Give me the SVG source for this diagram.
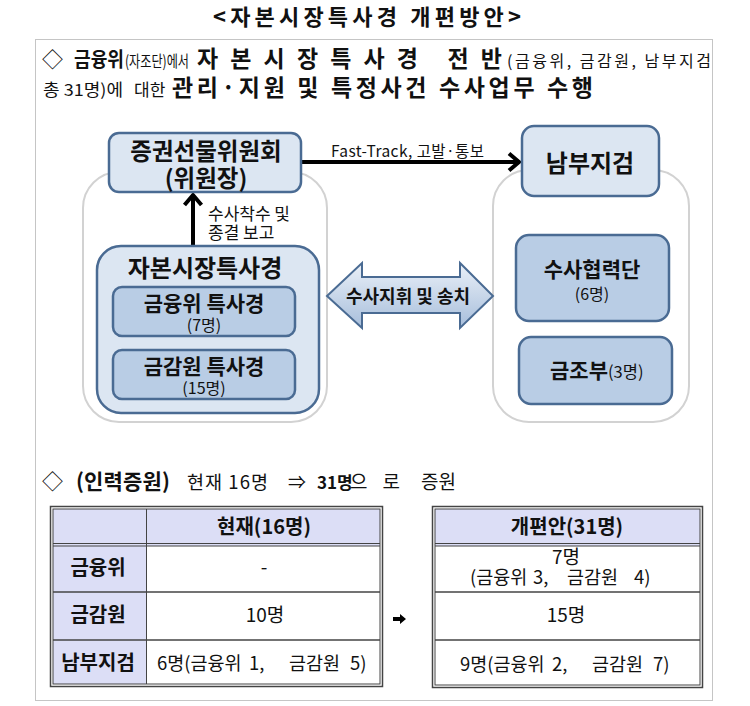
<svg xmlns="http://www.w3.org/2000/svg" width="750" height="706" viewBox="0 0 750 706">
<defs>
<style>
text{font-family:'Noto Sans CJK KR','Noto Sans',sans-serif;fill:#111;}
.b{font-weight:bold;}
.c{text-anchor:middle;}
.box1{fill:#dce6f2;stroke:#4a6b93;stroke-width:2.5;}
.box2{fill:#b9cde5;stroke:#4a6b93;stroke-width:2.5;}
.cont{fill:#fff;stroke:#d2d2d2;stroke-width:2;}
.conn{fill:none;stroke:#000;stroke-width:4;}
.tl{stroke:#444;fill:none;}
.hd{fill:#dcdef6;}
</style>
<linearGradient id="ga" x1="0" y1="0" x2="0" y2="1">
<stop offset="0" stop-color="#eaf0f8"/>
<stop offset="1" stop-color="#a7bedb"/>
</linearGradient>
</defs>
<rect width="750" height="706" fill="#fff"/>

<!-- title -->
<text class="b c" x="367" y="25" font-size="22" textLength="308">&lt;자본시장특사경 개편방안&gt;</text>

<!-- frame -->
<rect x="35.5" y="39.5" width="677" height="661" fill="none" stroke="#8a8a8a" stroke-width="1" stroke-dasharray="1 1"/>

<!-- heading 1 -->
<g id="heading1">
<text x="42" y="67" font-size="21">◇</text>
<text class="b" x="74" y="67" font-size="20" textLength="50" lengthAdjust="spacingAndGlyphs">금융위</text>
<text x="125" y="67" font-size="16" textLength="64" lengthAdjust="spacingAndGlyphs">(자조단)에서</text>
<text class="b" x="197" y="67" font-size="23" textLength="305">자본시장특사경 전반</text>
<text x="507" y="67" font-size="16" textLength="204">(금융위, 금감원, 남부지검</text>
<text x="43" y="96" font-size="16.5" textLength="80" lengthAdjust="spacingAndGlyphs">총 31명)에</text>
<text x="134" y="96" font-size="17">대한</text>
<text class="b" x="172" y="96" font-size="23" textLength="421">관리·지원 및 특정사건 수사업무 수행</text>
</g>

<!-- containers -->
<g id="left-container"><rect class="cont" x="83" y="172" width="244" height="250" rx="36"/></g>
<g id="right-container"><rect class="cont" x="493" y="170" width="196" height="252" rx="36"/></g>

<!-- connectors -->
<g id="connectors">
<line class="conn" x1="302" y1="162" x2="518" y2="162"/>
<polyline class="conn" points="509,153.5 519,162 509,170.5"/>
<line class="conn" x1="193" y1="246" x2="193" y2="196"/>
<polyline class="conn" points="184.5,205 193,195 201.5,205"/>
<polygon points="327,296 362,263 362,277 460,277 460,263 493,296 460,328 460,313 362,313 362,328" fill="url(#ga)" stroke="#4a6b93" stroke-width="2"/>
<text class="b c" x="408" y="302.5" font-size="18">수사지휘 및 송치</text>
<text x="331" y="157" font-size="15.5" textLength="153">Fast-Track, 고발·통보</text>
<text x="208" y="220" font-size="17">수사착수 및</text>
<text x="208" y="239" font-size="17">종결 보고</text>
</g>

<g id="n-sfc">
<rect class="box1" x="109" y="133" width="192" height="59" rx="10"/>
<text class="b c" x="206" y="159.5" font-size="23.5">증권선물위원회</text>
<text class="b c" x="206" y="186.5" font-size="23.5">(위원장)</text>
</g>

<g id="n-spj">
<rect class="box1" x="97" y="246" width="222" height="167" rx="24"/>
<text class="b c" x="205" y="277" font-size="24">자본시장특사경</text>
</g>

<g id="n-fsc">
<rect class="box2" x="113" y="287" width="182" height="49" rx="9"/>
<text class="b c" x="204" y="311" font-size="21">금융위 특사경</text>
<text class="c" x="204" y="331" font-size="16">(7명)</text>
</g>

<g id="n-fss">
<rect class="box2" x="113" y="350" width="182" height="49" rx="9"/>
<text class="b c" x="204" y="374" font-size="21">금감원 특사경</text>
<text class="c" x="204" y="394" font-size="16">(15명)</text>
</g>

<g id="n-spo">
<rect class="box1" x="522" y="126" width="137" height="70" rx="12"/>
<text class="b c" x="590" y="171.5" font-size="24">남부지검</text>
</g>

<g id="n-coop">
<rect class="box2" x="516" y="235" width="153" height="86" rx="13"/>
<text class="b c" x="592" y="277" font-size="21">수사협력단</text>
<text class="c" x="592" y="300" font-size="16">(6명)</text>
</g>

<g id="n-fin">
<rect class="box2" x="519" y="337" width="153" height="67" rx="12"/>
<text x="550" y="377.5"><tspan class="b" font-size="21">금조부</tspan><tspan font-size="16.5">(3명)</tspan></text>
</g>

<!-- heading 2 -->
<g id="heading2">
<text x="42" y="489" font-size="21">◇</text>
<text class="b" x="76" y="489" font-size="21" textLength="94">(인력증원)</text>
<text x="187" y="489" font-size="18.5" textLength="81">현재 16명</text>
<text x="288" y="489" font-size="18">⇒</text>
<text class="b" x="317" y="489" font-size="17">31명</text>
<text x="350" y="489" font-size="19" textLength="50">으로</text>
<text x="421" y="489" font-size="19">증원</text>
</g>

<!-- table current -->
<g id="table-current">
<rect x="50" y="506" width="333" height="181" fill="#fff"/>
<rect class="hd" x="53" y="509" width="327" height="37"/>
<rect class="hd" x="53" y="546" width="93.5" height="138"/>
<rect class="tl" x="50.5" y="506.5" width="332" height="180" stroke-width="1.5"/>
<rect class="tl" x="53" y="509" width="327" height="175" stroke-width="1"/>
<line class="tl" x1="53" y1="543.5" x2="380" y2="543.5" stroke-width="1"/>
<line class="tl" x1="53" y1="546" x2="380" y2="546" stroke-width="1"/>
<line class="tl" x1="53" y1="592" x2="380" y2="592" stroke-width="1.5"/>
<line class="tl" x1="53" y1="640" x2="380" y2="640" stroke-width="1.5"/>
<line class="tl" x1="146.5" y1="509" x2="146.5" y2="684" stroke-width="1"/>
<text class="b c" x="264" y="534" font-size="20">현재(16명)</text>
<text class="b c" x="98" y="575" font-size="20">금융위</text>
<text class="b c" x="98" y="622" font-size="20">금감원</text>
<text class="b c" x="98" y="670" font-size="20">남부지검</text>
<text class="c" x="264" y="574" font-size="19">-</text>
<text class="c" x="265" y="622" font-size="19">10명</text>
<text y="670" font-size="18.5"><tspan x="157">6명(금융위</tspan><tspan x="249">1,</tspan><tspan x="289">금감원</tspan><tspan x="350">5)</tspan></text>
</g>

<!-- small arrow -->
<g id="mid-arrow"><polygon points="393,617 400,617 400,614 406,619 400,624 400,621 393,621" fill="#000"/></g>

<!-- table plan -->
<g id="table-plan">
<rect x="432" y="506" width="271" height="182" fill="#fff"/>
<rect class="hd" x="435" y="509" width="265" height="37"/>
<rect class="tl" x="432.5" y="506.5" width="270" height="181" stroke-width="1.5"/>
<rect class="tl" x="435" y="509" width="265" height="176" stroke-width="1"/>
<line class="tl" x1="435" y1="543.5" x2="700" y2="543.5" stroke-width="1"/>
<line class="tl" x1="435" y1="546" x2="700" y2="546" stroke-width="1"/>
<line class="tl" x1="435" y1="592" x2="700" y2="592" stroke-width="1.5"/>
<line class="tl" x1="435" y1="640" x2="700" y2="640" stroke-width="1.5"/>
<text class="b c" x="567" y="534" font-size="20">개편안(31명)</text>
<text class="c" x="566" y="563.5" font-size="19">7명</text>
<text y="584" font-size="18.5"><tspan x="470">(금융위</tspan><tspan x="533">3,</tspan><tspan x="567">금감원</tspan><tspan x="634">4)</tspan></text>
<text class="c" x="566" y="622" font-size="19">15명</text>
<text y="670.5" font-size="18.5"><tspan x="460">9명(금융위</tspan><tspan x="552">2,</tspan><tspan x="592">금감원</tspan><tspan x="653">7)</tspan></text>
</g>
</svg>
